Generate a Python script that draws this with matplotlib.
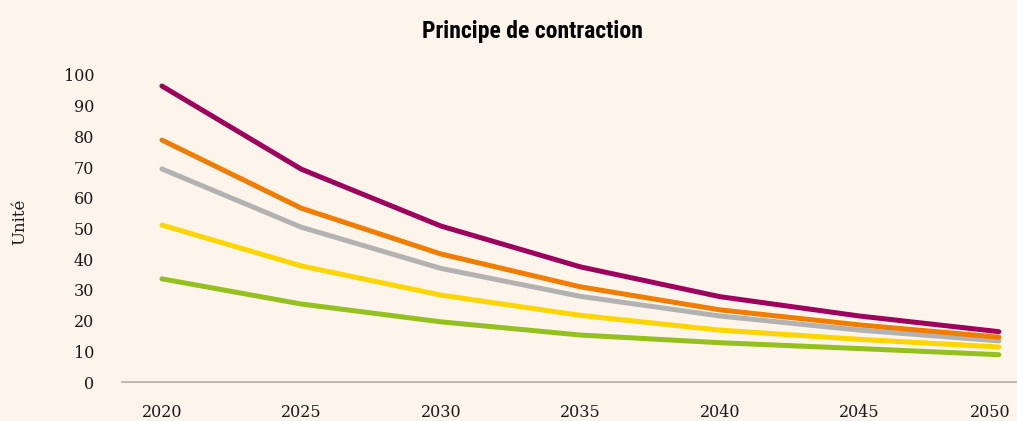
import matplotlib
matplotlib.use("Agg")
import matplotlib.pyplot as plt
from matplotlib.transforms import ScaledTranslation

years = [2020, 2025, 2030, 2035, 2040, 2045, 2050]
purple = [96.4, 69.3, 50.8, 37.5, 27.8, 21.5, 16.4]
orange = [78.8, 56.6, 41.7, 31.0, 23.5, 18.6, 14.6]
gray = [69.4, 50.4, 37.0, 27.9, 21.5, 16.9, 13.4]
yellow = [51.1, 37.8, 28.3, 21.7, 16.9, 13.9, 11.4]
green = [33.6, 25.4, 19.6, 15.3, 12.8, 10.9, 8.9]
yticks = [0, 10, 20, 30, 40, 50, 60, 70, 80, 90, 100]

bg = "#fdf4ec"
fig = plt.figure(figsize=(10.17, 4.21), dpi=100, facecolor=bg)
ax = fig.add_axes([0.12, 0.0926, 0.88, 0.7293])
ax.set_facecolor(bg)

series = [(purple, "#9e005d"), (orange, "#f07d00"), (gray, "#b2b2b2"),
          (yellow, "#ffd500"), (green, "#95c11f")]
for vals, col in reversed(series):
    ax.plot(years, vals, color=col, lw=3.6, solid_capstyle="round",
            solid_joinstyle="round", clip_on=False)

ax.set_xlim(2018.57, 2050.65)
ax.set_ylim(0, 100)
ax.set_xticks(years)
ax.set_yticks(yticks)
serif = ["DejaVu Serif"]
ax.set_xticklabels([str(y) for y in years], fontfamily=serif, fontsize=11.5,
                   color="#1a1a1a")
ax.set_yticklabels([str(v) for v in yticks], fontfamily=serif, fontsize=11.5,
                   color="#1a1a1a")
ax.tick_params(axis="y", length=0, pad=20)
ax.tick_params(axis="x", length=0, pad=16)
for s in ["top", "right", "left"]:
    ax.spines[s].set_visible(False)
ax.spines["bottom"].set_color("#b5aca5")
ax.spines["bottom"].set_linewidth(1.2)

last = ax.get_xticklabels()[-1]
last.set_transform(last.get_transform() +
                   ScaledTranslation(-0.09, 0, fig.dpi_scale_trans))

fig.text(0.0197, 0.473, "Unité", rotation=90, ha="center", va="center",
         fontfamily=serif, fontsize=12, color="#1a1a1a")
fig.text(0.524, 0.925, "Principe de contraction", ha="center", va="center",
         fontfamily=["Roboto Condensed", "Liberation Sans Narrow",
                     "DejaVu Sans Condensed", "DejaVu Sans"],
         fontweight="bold", fontstretch="condensed", fontsize=17)

fig.savefig("out.png", dpi=100, facecolor=bg)
